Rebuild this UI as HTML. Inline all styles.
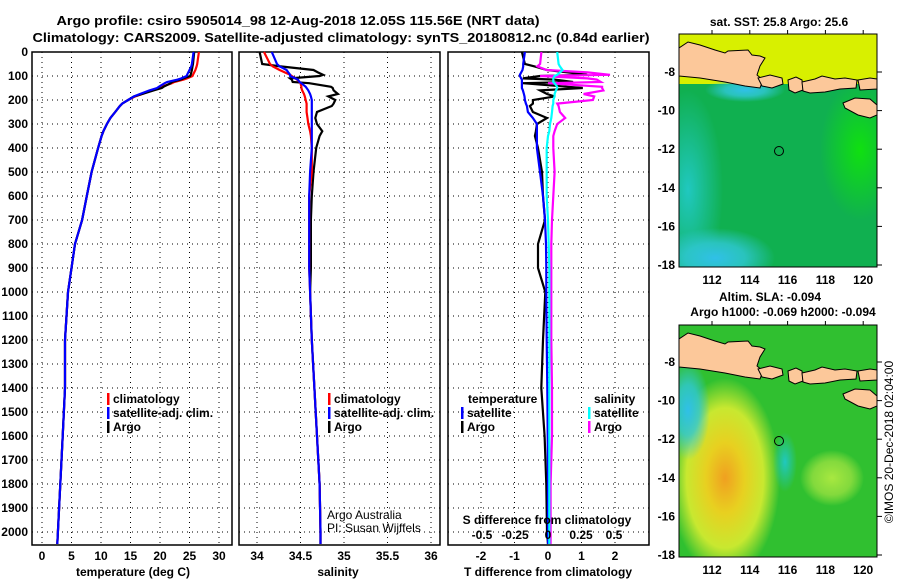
<!DOCTYPE html>
<html><head><meta charset="utf-8"><style>
body{margin:0;background:#fff}
svg{display:block}
text{font-family:"Liberation Sans",sans-serif;font-weight:bold;fill:#000}
</style></head><body>
<svg id="c" width="900" height="580" viewBox="0 0 900 580" xmlns="http://www.w3.org/2000/svg">
<defs>
<radialGradient id="g1" cx="0.5" cy="0.5" r="0.5"><stop offset="0" stop-color="#f0a020"/><stop offset="0.35" stop-color="#e8d020"/><stop offset="0.7" stop-color="#c8e830"/><stop offset="1" stop-color="#c8e830" stop-opacity="0"/></radialGradient>
<radialGradient id="g2" cx="0.5" cy="0.5" r="0.5"><stop offset="0" stop-color="#30c0e8"/><stop offset="0.5" stop-color="#30c8d8" stop-opacity="0.8"/><stop offset="1" stop-color="#30c8e0" stop-opacity="0"/></radialGradient>
<radialGradient id="g3" cx="0.5" cy="0.5" r="0.5"><stop offset="0" stop-color="#a8e840"/><stop offset="0.6" stop-color="#98e040" stop-opacity="0.8"/><stop offset="1" stop-color="#a8e840" stop-opacity="0"/></radialGradient>
<radialGradient id="g4" cx="0.5" cy="0.5" r="0.5"><stop offset="0" stop-color="#20c8c0"/><stop offset="1" stop-color="#20c8c0" stop-opacity="0"/></radialGradient>
<radialGradient id="g5" cx="0.5" cy="0.5" r="0.5"><stop offset="0" stop-color="#10e010"/><stop offset="1" stop-color="#10e010" stop-opacity="0"/></radialGradient>
<clipPath id="m1"><rect x="679" y="34" width="198" height="233"/></clipPath>
<clipPath id="m2"><rect x="679" y="325" width="198" height="232"/></clipPath>
<g id="land">
<polygon points="679,48 688,42 700,45 715,50 725,53 728,51 748,50 752,55 760,56 765,58 760,66 757,75 763,80 760,88 745,86 725,82 700,78 679,76" />
<polygon points="758,78 770,75 782,78 783,84 772,88 762,86"/>
<polygon points="788,80 796,77 802,80 803,90 795,93 789,90"/>
<polygon points="802,82 815,79 822,76 835,79 845,78 857,80 856,88 840,89 825,92 810,93 803,91"/>
<polygon points="858,80 870,78 877,79 877,89 860,90"/>
<polygon points="843,103 855,98 870,99 877,105 877,115 870,118 858,115 845,108"/>
</g>
</defs>

<text x="298" y="25" text-anchor="middle" font-size="13" textLength="483" lengthAdjust="spacingAndGlyphs">Argo profile: csiro 5905014_98 12-Aug-2018 12.05S 115.56E (NRT data)</text>
<text x="341" y="42" text-anchor="middle" font-size="13" textLength="617" lengthAdjust="spacingAndGlyphs">Climatology: CARS2009. Satellite-adjusted climatology: synTS_20180812.nc (0.84d earlier)</text>

<g clip-path="url(#m1)">
<rect x="679" y="34" width="198" height="233" fill="#10b050"/>
<rect x="679" y="34" width="198" height="50" fill="#d8f000"/>
<ellipse cx="688" cy="190" rx="35" ry="100" fill="url(#g4)"/>
<ellipse cx="715" cy="258" rx="60" ry="30" fill="url(#g2)"/>
<ellipse cx="860" cy="150" rx="40" ry="70" fill="url(#g5)"/>
<ellipse cx="745" cy="90" rx="40" ry="12" fill="url(#g2)"/>
<use href="#land" fill="#fcc89a" stroke="#000" stroke-width="1"/>
<circle cx="779" cy="151" r="4.5" fill="none" stroke="#000" stroke-width="1"/>
</g>
<rect x="679" y="34" width="198" height="233" fill="none" stroke="#000"/>
<text x="779" y="26" text-anchor="middle" font-size="12">sat. SST: 25.8 Argo: 25.6</text>

<g clip-path="url(#m2)">
<rect x="679" y="325" width="198" height="232" fill="#30c030"/>
<ellipse cx="725" cy="478" rx="55" ry="100" fill="url(#g1)"/>
<ellipse cx="688" cy="410" rx="22" ry="50" fill="url(#g2)"/>
<ellipse cx="832" cy="478" rx="32" ry="28" fill="url(#g3)"/>
<ellipse cx="785" cy="462" rx="12" ry="30" fill="url(#g4)"/>
<use href="#land" transform="translate(0,291)" fill="#fcc89a" stroke="#000" stroke-width="1"/>
<circle cx="779" cy="441" r="4.5" fill="none" stroke="#000" stroke-width="1"/>
</g>
<rect x="679" y="325" width="198" height="232" fill="none" stroke="#000"/>
<text x="770" y="301" text-anchor="middle" font-size="12">Altim. SLA: -0.094</text>
<text x="783" y="316" text-anchor="middle" font-size="12">Argo h1000: -0.069 h2000: -0.094</text>
<text transform="translate(893,442) rotate(-90)" text-anchor="middle" font-size="12" style="font-weight:normal">©IMOS 20-Dec-2018 02:04:00</text>

<g id="plots"></g>
</svg>
<script>
const depths = [0,50,60,75,85,95,100,110,115,125,130,145,150,160,175,185,200,215,225,250,275,300,330,350,400,500,600,700,800,900,1000,1200,1400,1600,1800,2000,2050];
const tempArgo = [25.8,25.6,25.5,25.4,25.3,25.2,25.1,24.0,23.5,22.0,21.8,20.6,20.3,18.9,17.0,15.6,14.6,13.6,13.2,12.4,11.6,11.0,10.4,10.1,9.5,8.4,7.6,6.8,5.6,5.0,4.4,3.9,3.9,3.5,3.1,2.7,2.6];
const tempClim = [26.6,26.3,26.2,26.0,25.8,25.6,25.5,24.6,24.0,22.4,22.0,20.3,20.0,18.6,17.0,15.8,14.6,13.6,13.2,12.4,11.6,11.0,10.4,10.1,9.5,8.4,7.6,6.8,5.6,5.0,4.4,3.9,3.9,3.5,3.1,2.7,2.6];
const tempSat = [25.7,25.4,25.3,25.0,24.8,24.6,24.5,23.6,23.0,21.2,20.8,19.8,19.5,18.2,16.6,15.6,14.6,13.6,13.2,12.4,11.6,11.0,10.4,10.1,9.5,8.4,7.6,6.8,5.6,5.0,4.4,3.9,3.9,3.5,3.1,2.7,2.6];
const salArgo = [34.03,34.06,34.27,34.65,34.70,34.76,34.72,34.38,34.40,34.41,34.60,34.85,34.87,34.88,34.93,34.82,34.90,34.88,34.86,34.69,34.67,34.69,34.75,34.72,34.68,34.65,34.63,34.62,34.62,34.62,34.61,34.63,34.66,34.69,34.72,34.73,34.73];
const salClim = [34.08,34.15,34.18,34.26,34.32,34.38,34.40,34.44,34.46,34.49,34.50,34.51,34.51,34.52,34.54,34.55,34.56,34.57,34.57,34.57,34.58,34.59,34.61,34.62,34.63,34.63,34.60,34.60,34.60,34.60,34.61,34.63,34.66,34.69,34.72,34.73,34.73];
const salSat = [34.17,34.23,34.26,34.34,34.36,34.38,34.38,34.44,34.47,34.49,34.51,34.56,34.57,34.59,34.61,34.62,34.63,34.63,34.63,34.63,34.63,34.63,34.63,34.63,34.63,34.61,34.60,34.60,34.60,34.60,34.61,34.63,34.66,34.69,34.72,34.73,34.73];
const dTSat = [-0.69,-0.74,-0.74,-0.76,-0.8,-0.84,-0.84,-0.8,-0.78,-0.78,-0.78,-0.78,-0.78,-0.75,-0.72,-0.7,-0.69,-0.66,-0.63,-0.6,-0.45,-0.33,-0.33,-0.33,-0.33,-0.24,-0.15,-0.09,-0.06,-0.05,-0.05,-0.04,-0.02,-0.01,0,0,0];
const dTArgo = [-0.78,-0.69,-0.4,-0.03,0.6,1.17,-0.24,-0.75,0.2,0.75,-0.75,0.6,1.04,-0.24,-0.03,0.2,-0.45,-0.45,-0.54,-0.45,-0.03,-0.33,-0.36,-0.39,-0.3,-0.18,-0.15,-0.09,-0.3,-0.3,-0.08,-0.15,-0.2,-0.1,-0.05,-0.03,0];
const dSSat = [0.07,0.08,0.09,0.11,0.09,0.07,0.05,0.04,0.04,0.04,0.05,0.07,0.07,0.06,0.05,0.05,0.04,0.04,0.035,0.03,0.025,0.015,0.01,0.0,-0.01,-0.01,-0.01,0,0.005,0.01,0.01,0.01,0.01,0.01,0.01,0.01,0.01];
const dSArgo = [-0.05,-0.06,-0.08,-0.01,0.3,0.47,-0.06,0.3,0.37,0.4,0.0,0.41,0.41,0.42,0.27,0.35,0.34,0.07,0.08,0.09,0.13,0.07,0.05,0.04,0.04,0.05,0.04,0.03,0.025,0.025,0.025,0.025,0.03,0.03,0.02,0.02,0.02];
const depthTicks = [0,100,200,300,400,500,600,700,800,900,1000,1100,1200,1300,1400,1500,1600,1700,1800,1900,2000];
const tempTicks = [0,5,10,15,20,25,30];
const salTicks = [34,34.5,35,35.5,36];
const salTickLabels = ["34","34.5","35","35.5","36"];
const dTTicks = [-2,-1,0,1,2];
const dSTicks = [-0.5,-0.25,0,0.25,0.5];
const dSTickLabels = ["-0.5","-0.25","0","0.25","0.5"];

const NS = "http://www.w3.org/2000/svg";
const root = document.getElementById('plots');
const Y0 = 52, Y1 = 545;
const yD = d => 52 + d * 0.24;
const xT = v => 42 + v * 5.9;
const xS = v => 257 + (v - 34) * 87;
const xDT = v => 548 + v * 33.5;
const xDS = v => 548 + v * 132;
function mk(tag, attrs, parent) {
  const e = document.createElementNS(NS, tag);
  for (const k in attrs) e.setAttribute(k, attrs[k]);
  (parent || root).appendChild(e);
  return e;
}
function txt(x, y, s, size, anchor, parent, normal) {
  const t = mk('text', {x: x, y: y, 'font-size': size, 'text-anchor': anchor || 'start'}, parent);
  if (normal) t.setAttribute('style', 'font-weight:normal');
  t.textContent = s;
  return t;
}
function panel(name, L, R, xs, ticks) {
  const g = mk('g', {});
  
  
  depthTicks.forEach(d => {
    if (d === 0) return;
    const l = mk('line', {x1: L, x2: R, y1: yD(d), y2: yD(d), stroke: '#000', 'stroke-width': 1, 'stroke-dasharray': '1 4'}, g);
    
    
  });
  ticks.forEach(v => {
    const l = mk('line', {x1: xs(v), x2: xs(v), y1: Y0, y2: Y1, stroke: '#000', 'stroke-width': 1, 'stroke-dasharray': '1 4'}, g);
    
    
  });
  const f = mk('rect', {x: L, y: Y0, width: R - L, height: Y1 - Y0, fill: 'none', stroke: '#000', 'stroke-width': 1.5}, g);
  
  
  return g;
}
function line(g, xs, vals, color, name) {
  const pts = depths.map((d, i) => xs(vals[i]).toFixed(1) + ',' + yD(Math.min(d, 2055)).toFixed(1)).join(' ');
  const p = mk('polyline', {points: pts, fill: 'none', stroke: color, 'stroke-width': 2.2, 'stroke-linejoin': 'miter'}, g);
  
  
}
function legend(g, x, y, color, label) {
  const m = mk('rect', {x: x, y: y - 10, width: 2.5, height: 12, fill: color}, g);
  
  
  const t = txt(x + 6, y, label, 12, 'start', g);
  
  
}

const ya = mk('g', {});


depthTicks.forEach(d => txt(28, yD(d) + 4, String(d), 12, 'end', ya));

const p1 = panel('temperature-panel', 32, 232, xT, tempTicks);
line(p1, xT, tempClim, '#f00', 'temperature-climatology-line');
line(p1, xT, tempArgo, '#000', 'temperature-argo-line');
line(p1, xT, tempSat, '#00f', 'temperature-satellite-line');
tempTicks.forEach(v => txt(xT(v), 560, String(v), 12, 'middle', p1));
txt(133, 576, 'temperature (deg C)', 12, 'middle', p1);
legend(p1, 107, 403, '#f00', 'climatology');
legend(p1, 107, 417, '#00f', 'satellite-adj. clim.');
legend(p1, 107, 431, '#000', 'Argo');

const p2 = panel('salinity-panel', 239, 440, xS, salTicks);
line(p2, xS, salArgo, '#000', 'salinity-argo-line');
line(p2, xS, salClim, '#f00', 'salinity-climatology-line');
line(p2, xS, salSat, '#00f', 'salinity-satellite-line');
salTicks.forEach((v, i) => txt(xS(v), 560, salTickLabels[i], 12, 'middle', p2));
txt(338, 576, 'salinity', 12, 'middle', p2);
legend(p2, 328, 403, '#f00', 'climatology');
legend(p2, 328, 417, '#00f', 'satellite-adj. clim.');
legend(p2, 328, 431, '#000', 'Argo');
txt(327, 519, 'Argo Australia', 12, 'start', p2, true);
txt(327, 532, 'PI: Susan Wijffels', 12, 'start', p2, true);

const p3 = panel('difference-panel', 448, 649, xDT, dTTicks);
line(p3, xDT, dTArgo, '#000', 'temperature-diff-argo-line');
line(p3, xDT, dTSat, '#00f', 'temperature-diff-satellite-line');
line(p3, xDS, dSArgo, '#f0f', 'salinity-diff-argo-line');
line(p3, xDS, dSSat, '#0ff', 'salinity-diff-satellite-line');
dTTicks.forEach(v => txt(xDT(v), 560, String(v), 12, 'middle', p3));
dSTicks.forEach((v, i) => txt(xDS(v), 539, dSTickLabels[i], 12, 'middle', p3));
txt(547, 524, 'S difference from climatology', 12, 'middle', p3);
txt(548, 576, 'T difference from climatology', 12, 'middle', p3);
txt(468, 403, 'temperature', 12, 'start', p3);
txt(594, 403, 'salinity', 12, 'start', p3);
legend(p3, 461, 417, '#00f', 'satellite');
legend(p3, 461, 431, '#000', 'Argo');
legend(p3, 588, 417, '#0ff', 'satellite');
legend(p3, 588, 431, '#f0f', 'Argo');

const latTicks = [-8,-10,-12,-14,-16,-18];
const lonTicks = [112,114,116,118,120];
[[34, 72, 280], [325, 362, 570]].forEach(([top, y8, ylab], k) => {
  const g = mk('g', {});
  
  
  latTicks.forEach(v => {
    const y = y8 + (-8 - v) * 19.3;
    txt(675, y + 4, String(v), 12, 'end', g);
    mk('line', {x1: 877, x2: 882, y1: y, y2: y, stroke: '#000'}, g);
  });
  lonTicks.forEach(v => {
    const x = 712 + (v - 112) * 18.9;
    txt(x, ylab + 4, String(v), 12, 'middle', g);
    mk('line', {x1: x, x2: x, y1: top, y2: top - 4, stroke: '#000'}, g);
  });
});
</script>
</body></html>
